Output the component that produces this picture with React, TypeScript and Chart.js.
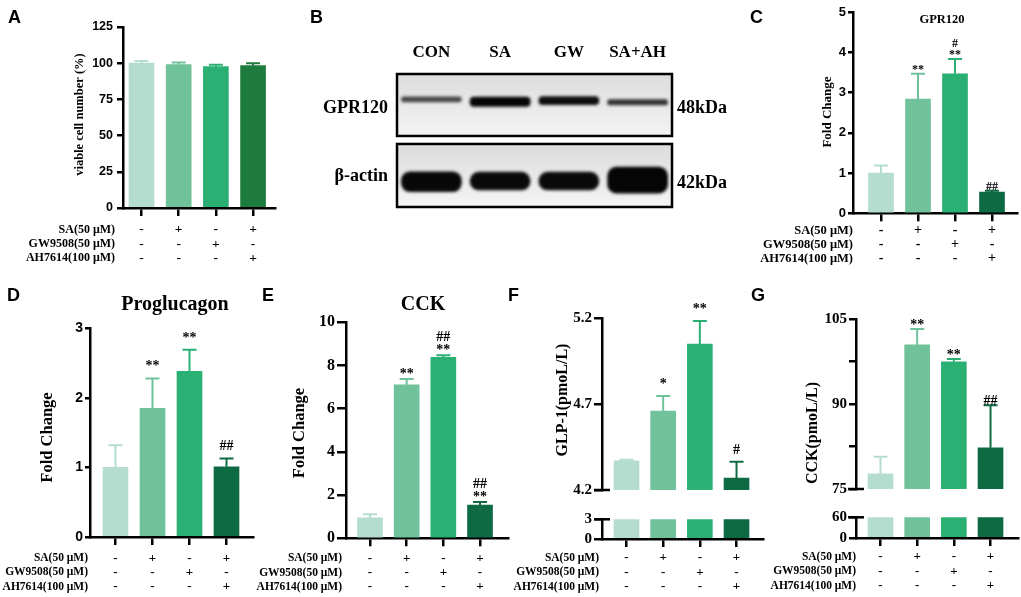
import React, { useEffect, useRef } from 'react';
import { Chart, registerables } from 'chart.js';

Chart.register(...registerables);

const SERIF = "'Liberation Serif', 'Times New Roman', serif";
const SANS = "'Liberation Sans', Arial, sans-serif";

// ---------------- DATA ----------------
const groups = ['CON', 'SA', 'GW', 'SA+AH'];
const conditionLabels = ['SA(50 μM)', 'GW9508(50 μM)', 'AH7614(100 μM)'];
const saRow = ['-', '+', '-', '+'];
const gwRow = ['-', '-', '+', '-'];
const ahRow = ['-', '-', '-', '+'];

// A: viability
const viableMean = [100, 99, 97.6, 98.3];
const viableErr = [1.5, 1.5, 1.4, 1.6];
const viableTicks = [0, 25, 50, 75, 100, 125];

// C: GPR120 western blot quantification
const gpr120Mean = [1.0, 2.84, 3.47, 0.53];
const gpr120Err = [0.19, 0.63, 0.37, 0.03];
const gpr120Ann = [[], ['**'], ['#', '**'], ['##']];
const gpr120Ticks = [0, 1, 2, 3, 4, 5];

// D: Proglucagon mRNA
const proglucagonMean = [1.0, 1.85, 2.38, 1.01];
const proglucagonErr = [0.32, 0.43, 0.31, 0.12];
const proglucagonAnn = [[], ['**'], ['**'], ['##']];
const proglucagonTicks = [0, 1, 2, 3];

// E: CCK mRNA
const cckFoldMean = [0.95, 7.11, 8.38, 1.54];
const cckFoldErr = [0.16, 0.26, 0.09, 0.14];
const cckFoldAnn = [[], ['**'], ['##', '**'], ['##', '**']];
const cckFoldTicks = [0, 2, 4, 6, 8, 10];

// F: GLP-1 secretion (broken axis)
const glp1Mean = [4.37, 4.66, 5.05, 4.27];
const glp1Err = [0.006, 0.087, 0.135, 0.094];
const glp1Ann = [[], ['*'], ['**'], ['#']];
const glp1UpperTicks = [4.2, 4.7, 5.2];
const glp1UpperLabels = ['4.2', '4.7', '5.2'];
const glp1LowerTicks = [0, 3];
const glp1LowerLabels = ['0', '3'];

// G: CCK secretion (broken axis)
const cckPlasmaMean = [77.7, 100.5, 97.5, 82.3];
const cckPlasmaErr = [3.0, 2.8, 0.5, 7.5];
const cckPlasmaAnn = [[], ['**'], ['**'], ['##']];
const cckUpperTicks = [75, 82.5, 90, 97.5, 105];
const cckUpperLabels = ['75', '', '90', '', '105'];
const cckLowerTicks = [0, 60];
const cckLowerLabels = ['0', '60'];

// B: western blot bands (center / thickness in blot units, shade 0=black 1=white)
const gpr120BandCenter = [8.1, 7.92, 8.0, 7.87];
const gpr120BandHeight = [0.38, 0.7, 0.6, 0.4];
const gpr120BandShade = [0.28, 0.02, 0.05, 0.2];
const actinBandCenter = [1.9, 1.95, 1.95, 2.02];
const actinBandHeight = [1.5, 1.35, 1.35, 1.95];
const actinBandShade = [0.03, 0.04, 0.04, 0.02];

// ---------------- STYLE ----------------
const C1 = '#b4ddcf';
const C2 = '#6fc29a';
const C3 = '#2bb074';
const C4A = '#1e7b3e';
const C4 = '#0d6a42';
const paletteA = [C1, C2, C3, C4A];
const palette = [C1, C2, C3, C4];
const conditionRows = [saRow, gwRow, ahRow];
const AXIS_W = 2.5;

type Rect = { left: number; top: number; width: number; height: number };
type Area = { left: number; top: number; right: number; bottom: number };

interface BarSpec {
  frame: Rect;
  area: Area;
  means: number[];
  errs?: number[];
  ann?: string[][];
  colors: string[];
  yMin: number;
  yMax: number;
  yTicks: number[];
  yLabels: string[];
  tickFamily: string;
  tickSize: number;
  tickLen: number;
  tickPad: number;
  xMin: number;
  xMax: number;
  showX: boolean;
  rows?: { size: number; firstDy: number; gap: number; labelDx: number };
  title?: { text: string; x: number; y: number; size: number };
  yTitle?: { text: string; x: number; y: number; size: number };
  caps?: ('top' | 'bottom')[];
  annSize?: number;
  annGap?: number;
  annLine?: number;
}

function buildBarConfig(s: BarSpec): any {
  const { frame, area } = s;
  const decor = {
    id: 'decor',
    afterDatasetsDraw(chart: any) {
      const ctx = chart.ctx;
      const ys = chart.scales.y;
      const meta = chart.getDatasetMeta(0);
      ctx.save();
      if (s.errs) {
        s.errs.forEach((e, i) => {
          const x = meta.data[i].x;
          const y0 = ys.getPixelForValue(s.means[i]);
          const y1 = ys.getPixelForValue(s.means[i] + e);
          ctx.strokeStyle = s.colors[i];
          ctx.lineWidth = 2;
          ctx.beginPath();
          ctx.moveTo(x, y0);
          ctx.lineTo(x, y1);
          ctx.moveTo(x - 7, y1);
          ctx.lineTo(x + 7, y1);
          ctx.stroke();
        });
      }
      if (s.ann) {
        ctx.fillStyle = '#000';
        ctx.font = `bold ${s.annSize || 14}px ${SERIF}`;
        ctx.textAlign = 'center';
        ctx.textBaseline = 'alphabetic';
        s.ann.forEach((lines, i) => {
          const x = meta.data[i].x;
          const top = ys.getPixelForValue(s.means[i] + (s.errs ? s.errs[i] : 0));
          const n = lines.length;
          lines.forEach((t, j) => {
            const y = top - (s.annGap || 0) - (n - 1 - j) * (s.annLine || 12);
            ctx.fillText(t, x, y);
          });
        });
      }
      ctx.restore();
    },
    afterDraw(chart: any) {
      const ctx = chart.ctx;
      const xs = chart.scales.x;
      const ca = chart.chartArea;
      ctx.save();
      ctx.fillStyle = '#000';
      ctx.strokeStyle = '#000';
      if (s.rows) {
        const r = s.rows;
        ctx.textBaseline = 'middle';
        conditionRows.forEach((row, k) => {
          const y = ca.bottom + r.firstDy + k * r.gap;
          ctx.font = `bold ${r.size}px ${SERIF}`;
          ctx.textAlign = 'right';
          ctx.fillText(conditionLabels[k], ca.left + r.labelDx, y);
          ctx.font = `bold ${r.size + 1.5}px ${SERIF}`;
          ctx.textAlign = 'center';
          row.forEach((sym, i) => {
            ctx.fillText(sym, xs.getPixelForValue(i + 1), y);
          });
        });
      }
      if (s.title) {
        ctx.font = `bold ${s.title.size}px ${SERIF}`;
        ctx.textAlign = 'center';
        ctx.textBaseline = 'middle';
        ctx.fillText(s.title.text, s.title.x - frame.left, s.title.y - frame.top);
      }
      if (s.yTitle) {
        ctx.save();
        ctx.translate(s.yTitle.x - frame.left, s.yTitle.y - frame.top);
        ctx.rotate(-Math.PI / 2);
        ctx.font = `bold ${s.yTitle.size}px ${SERIF}`;
        ctx.textAlign = 'center';
        ctx.textBaseline = 'middle';
        ctx.fillText(s.yTitle.text, 0, 0);
        ctx.restore();
      }
      if (s.caps) {
        ctx.lineWidth = AXIS_W;
        s.caps.forEach((c) => {
          const yy = c === 'top' ? ca.top : ca.bottom;
          ctx.beginPath();
          ctx.moveTo(ca.left - 8, yy);
          ctx.lineTo(ca.left + 8, yy);
          ctx.stroke();
        });
      }
      ctx.restore();
    },
  };
  return {
    type: 'bar',
    data: {
      datasets: [
        {
          data: s.means.map((v, i) => ({ x: i + 1, y: v })),
          backgroundColor: s.colors,
          borderWidth: 0,
          barThickness: 25,
          clip: 0,
        },
      ],
    },
    options: {
      responsive: false,
      animation: false,
      events: [],
      layout: {
        padding: {
          left: 0,
          top: area.top - frame.top,
          right: frame.left + frame.width - area.right,
          bottom: s.showX ? 0 : frame.top + frame.height - area.bottom,
        },
      },
      plugins: { legend: { display: false }, tooltip: { enabled: false } },
      scales: {
        x: {
          type: 'linear',
          display: s.showX,
          min: s.xMin,
          max: s.xMax,
          offset: false,
          z: 1,
          afterBuildTicks: (sc: any) => {
            sc.ticks = groups.map((_, i) => ({ value: i + 1 }));
          },
          afterFit: (sc: any) => {
            sc.height = frame.top + frame.height - area.bottom;
          },
          grid: {
            offset: false,
            drawOnChartArea: false,
            drawTicks: true,
            tickLength: 8,
            color: '#000',
            lineWidth: AXIS_W,
          },
          border: { display: true, color: '#000', width: AXIS_W },
          ticks: { display: false },
        },
        y: {
          type: 'linear',
          min: s.yMin,
          max: s.yMax,
          z: 1,
          afterBuildTicks: (sc: any) => {
            sc.ticks = s.yTicks.map((v) => ({ value: v }));
          },
          afterFit: (sc: any) => {
            sc.width = area.left - frame.left;
          },
          grid: {
            drawOnChartArea: false,
            drawTicks: true,
            tickLength: s.tickLen,
            color: '#000',
            lineWidth: AXIS_W,
          },
          border: { display: true, color: '#000', width: AXIS_W },
          ticks: {
            color: '#000',
            autoSkip: false,
            padding: s.tickPad,
            font: { family: s.tickFamily, size: s.tickSize, weight: 'bold' },
            callback: (_v: any, i: number) => s.yLabels[i],
          },
        },
      },
    },
    plugins: [decor],
  };
}

// ---------------- BLOT (panel B) ----------------
const blotFrame: Rect = { left: 300, top: 0, width: 440, height: 230 };
const blotArea: Area = { left: 397, top: 74, right: 672, bottom: 207 };
const blotBoxes = [
  [5.34, 10],
  [0, 4.74],
];

function buildBlotConfig(): any {
  const f = blotFrame;
  const a = blotArea;
  const shade = (arr: number[]) =>
    arr.map((s) => {
      const v = Math.round(s * 255);
      return `rgb(${v},${v},${v})`;
    });
  const band = (centers: number[], heights: number[], shades: number[], radius: number) => ({
    data: centers.map((c, i) => ({ x: i + 1, y: [c - heights[i] / 2, c + heights[i] / 2] })),
    backgroundColor: shade(shades),
    borderWidth: 0,
    borderSkipped: false,
    borderRadius: radius,
    barThickness: 60,
    grouped: false,
  });
  const boxPx = (chart: any) =>
    blotBoxes.map(([lo, hi]) => ({
      top: chart.scales.y.getPixelForValue(hi),
      bottom: chart.scales.y.getPixelForValue(lo),
    }));
  const decor = {
    id: 'blotDecor',
    beforeDatasetsDraw(chart: any) {
      const ctx = chart.ctx;
      const ca = chart.chartArea;
      boxPx(chart).forEach((b) => {
        const g = ctx.createLinearGradient(0, b.top, 0, b.bottom);
        g.addColorStop(0, '#dcdcdc');
        g.addColorStop(1, '#f4f4f4');
        ctx.fillStyle = g;
        ctx.fillRect(ca.left, b.top, ca.right - ca.left, b.bottom - b.top);
      });
      ctx.save();
      ctx.filter = 'blur(1.8px)';
    },
    afterDatasetsDraw(chart: any) {
      const ctx = chart.ctx;
      ctx.restore();
      const ca = chart.chartArea;
      ctx.save();
      ctx.strokeStyle = '#000';
      ctx.lineWidth = 2.5;
      boxPx(chart).forEach((b) => {
        ctx.strokeRect(ca.left, b.top, ca.right - ca.left, b.bottom - b.top);
      });
      ctx.fillStyle = '#000';
      ctx.font = `bold 17px ${SERIF}`;
      ctx.textAlign = 'center';
      ctx.textBaseline = 'middle';
      groups.forEach((g, i) => {
        ctx.fillText(g, chart.scales.x.getPixelForValue(i + 1), 53 - f.top);
      });
      ctx.font = `bold 18px ${SERIF}`;
      ctx.textAlign = 'right';
      ctx.fillText('GPR120', 388 - f.left, 108 - f.top);
      ctx.fillText('β-actin', 388 - f.left, 176 - f.top);
      ctx.textAlign = 'left';
      ctx.fillText('48kDa', 677 - f.left, 108 - f.top);
      ctx.fillText('42kDa', 677 - f.left, 183 - f.top);
      ctx.restore();
    },
  };
  return {
    type: 'bar',
    data: {
      datasets: [
        band(gpr120BandCenter, gpr120BandHeight, gpr120BandShade, 4),
        band(actinBandCenter, actinBandHeight, actinBandShade, 9),
      ],
    },
    options: {
      responsive: false,
      animation: false,
      events: [],
      layout: {
        padding: {
          left: a.left - f.left,
          top: a.top - f.top,
          right: f.left + f.width - a.right,
          bottom: f.top + f.height - a.bottom,
        },
      },
      plugins: { legend: { display: false }, tooltip: { enabled: false } },
      scales: {
        x: { type: 'linear', display: false, min: 0.5, max: 4.5, offset: false },
        y: { type: 'linear', display: false, min: 0, max: 10 },
      },
    },
    plugins: [decor],
  };
}

// ---------------- PANELS ----------------
const rowsSmall = { size: 11.5, firstDy: 20, gap: 14.3, labelDx: -3 };

const panelA: BarSpec = {
  frame: { left: 0, top: 0, width: 300, height: 280 },
  area: { left: 123, top: 27, right: 275, bottom: 208 },
  means: viableMean,
  errs: viableErr,
  colors: paletteA,
  yMin: 0,
  yMax: 125,
  yTicks: viableTicks,
  yLabels: viableTicks.map(String),
  tickFamily: SANS,
  tickSize: 12.5,
  tickLen: 6,
  tickPad: 4,
  xMin: 0.503,
  xMax: 4.59,
  showX: true,
  rows: { size: 12, firstDy: 22, gap: 14.2, labelDx: -8 },
  yTitle: { text: 'viable cell number (%)', x: 80, y: 114.5, size: 12.5 },
};

const panelC: BarSpec = {
  frame: { left: 740, top: 0, width: 281, height: 280 },
  area: { left: 853, top: 12.3, right: 1017, bottom: 213.3 },
  means: gpr120Mean,
  errs: gpr120Err,
  ann: gpr120Ann,
  colors: palette,
  yMin: 0,
  yMax: 5,
  yTicks: gpr120Ticks,
  yLabels: gpr120Ticks.map(String),
  tickFamily: SANS,
  tickSize: 13,
  tickLen: 5,
  tickPad: 2,
  xMin: 0.243,
  xMax: 4.676,
  showX: true,
  rows: { size: 12.5, firstDy: 17, gap: 14.2, labelDx: 0 },
  title: { text: 'GPR120', x: 942, y: 20, size: 12.5 },
  yTitle: { text: 'Fold Change', x: 828, y: 112, size: 13 },
  annSize: 12,
  annGap: 1,
  annLine: 11,
};

const panelD: BarSpec = {
  frame: { left: 0, top: 285, width: 262, height: 312 },
  area: { left: 90, top: 328.3, right: 253, bottom: 537 },
  means: proglucagonMean,
  errs: proglucagonErr,
  ann: proglucagonAnn,
  colors: palette,
  yMin: 0,
  yMax: 3,
  yTicks: proglucagonTicks,
  yLabels: proglucagonTicks.map(String),
  tickFamily: SANS,
  tickSize: 14,
  tickLen: 5,
  tickPad: 2,
  xMin: 0.311,
  xMax: 4.716,
  showX: true,
  rows: { size: 11.5, firstDy: 21.3, gap: 14.2, labelDx: -2 },
  title: { text: 'Proglucagon', x: 175, y: 305, size: 20 },
  yTitle: { text: 'Fold Change', x: 48, y: 437.5, size: 16.5 },
  annSize: 14,
  annGap: 8,
  annLine: 13,
};

const panelE: BarSpec = {
  frame: { left: 250, top: 285, width: 262, height: 312 },
  area: { left: 346, top: 322.3, right: 508, bottom: 538.3 },
  means: cckFoldMean,
  errs: cckFoldErr,
  ann: cckFoldAnn,
  colors: palette,
  yMin: 0,
  yMax: 10,
  yTicks: cckFoldTicks,
  yLabels: cckFoldTicks.map(String),
  tickFamily: SERIF,
  tickSize: 16,
  tickLen: 9,
  tickPad: 2,
  xMin: 0.346,
  xMax: 4.763,
  showX: true,
  rows: { size: 11.5, firstDy: 20, gap: 14.3, labelDx: -4 },
  title: { text: 'CCK', x: 423, y: 305, size: 20 },
  yTitle: { text: 'Fold Change', x: 300, y: 433, size: 16.5 },
  annSize: 14,
  annGap: 1,
  annLine: 13.5,
};

const panelFUpper: BarSpec = {
  frame: { left: 500, top: 285, width: 270, height: 230 },
  area: { left: 602, top: 318.3, right: 763, bottom: 502.5 },
  means: glp1Mean,
  errs: glp1Err,
  ann: glp1Ann,
  colors: palette,
  yMin: 4.2,
  yMax: 5.2,
  yTicks: glp1UpperTicks,
  yLabels: glp1UpperLabels,
  tickFamily: SERIF,
  tickSize: 15,
  tickLen: 8,
  tickPad: 2,
  xMin: 0.332,
  xMax: 4.722,
  showX: false,
  caps: ['bottom'],
  yTitle: { text: 'GLP-1(pmoL/L)', x: 563, y: 400, size: 16 },
  annSize: 14,
  annGap: 8,
  annLine: 13,
};

const panelFLower: BarSpec = {
  frame: { left: 500, top: 508, width: 270, height: 89 },
  area: { left: 602, top: 519.3, right: 763, bottom: 539 },
  means: glp1Mean,
  colors: palette,
  yMin: 0,
  yMax: 3,
  yTicks: glp1LowerTicks,
  yLabels: glp1LowerLabels,
  tickFamily: SERIF,
  tickSize: 15,
  tickLen: 8,
  tickPad: 2,
  xMin: 0.332,
  xMax: 4.722,
  showX: true,
  caps: ['top'],
  rows: { ...rowsSmall, firstDy: 19 },
};

const panelGUpper: BarSpec = {
  frame: { left: 750, top: 285, width: 271, height: 230 },
  area: { left: 856, top: 319.3, right: 1018, bottom: 502 },
  means: cckPlasmaMean,
  errs: cckPlasmaErr,
  ann: cckPlasmaAnn,
  colors: palette,
  yMin: 75,
  yMax: 105,
  yTicks: cckUpperTicks,
  yLabels: cckUpperLabels,
  tickFamily: SERIF,
  tickSize: 15,
  tickLen: 7,
  tickPad: 2,
  xMin: 0.332,
  xMax: 4.749,
  showX: false,
  caps: ['bottom'],
  yTitle: { text: 'CCK(pmoL/L)', x: 813, y: 433, size: 16 },
  annSize: 14,
  annGap: 0,
  annLine: 13,
};

const panelGLower: BarSpec = {
  frame: { left: 750, top: 506, width: 271, height: 91 },
  area: { left: 856, top: 517.3, right: 1018, bottom: 538 },
  means: cckPlasmaMean,
  colors: palette,
  yMin: 0,
  yMax: 60,
  yTicks: cckLowerTicks,
  yLabels: cckLowerLabels,
  tickFamily: SERIF,
  tickSize: 15,
  tickLen: 7,
  tickPad: 2,
  xMin: 0.332,
  xMax: 4.749,
  showX: true,
  caps: ['top'],
  rows: { ...rowsSmall, firstDy: 19, labelDx: 0 },
};

function ChartBox({ frame, build }: { frame: Rect; build: () => any }) {
  const ref = useRef<HTMLCanvasElement>(null);
  useEffect(() => {
    const chart = new Chart(ref.current as HTMLCanvasElement, build());
    return () => chart.destroy();
  }, []);
  return (
    <canvas
      ref={ref}
      width={frame.width}
      height={frame.height}
      style={{
        position: 'absolute',
        left: frame.left,
        top: frame.top,
        width: frame.width,
        height: frame.height,
      }}
    />
  );
}

const letters = [
  { t: 'A', x: 8, y: 10 },
  { t: 'B', x: 310, y: 10 },
  { t: 'C', x: 750, y: 10 },
  { t: 'D', x: 7, y: 288 },
  { t: 'E', x: 262, y: 288 },
  { t: 'F', x: 508, y: 288 },
  { t: 'G', x: 751, y: 288 },
];

export default function App() {
  const bars = [panelA, panelC, panelD, panelE, panelFUpper, panelFLower, panelGUpper, panelGLower];
  return (
    <div
      style={{
        position: 'fixed',
        left: 0,
        top: 0,
        width: 1021,
        height: 597,
        background: '#fff',
        overflow: 'hidden',
      }}
    >
      <ChartBox frame={blotFrame} build={buildBlotConfig} />
      {bars.map((b, i) => (
        <ChartBox key={i} frame={b.frame} build={() => buildBarConfig(b)} />
      ))}
      {letters.map((l) => (
        <div
          key={l.t}
          style={{
            position: 'absolute',
            left: l.x,
            top: l.y - 2.3,
            font: `bold 18px ${SANS}`,
            lineHeight: '18px',
            color: '#000',
          }}
        >
          {l.t}
        </div>
      ))}
    </div>
  );
}
